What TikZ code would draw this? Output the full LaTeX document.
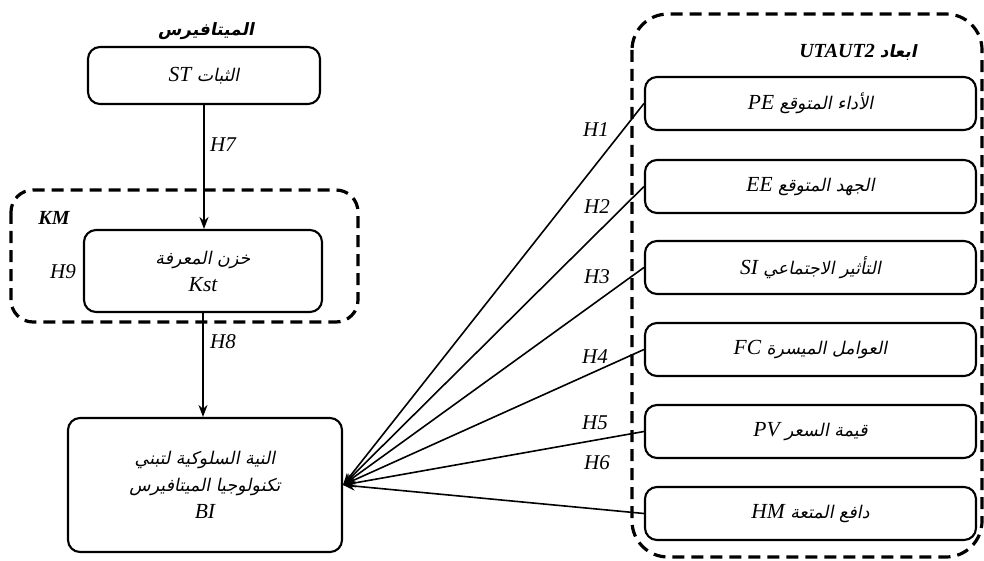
\documentclass[tikz,border=0pt]{standalone}
\usepackage{fontspec}
\usepackage{tikz}
\setmainfont{Liberation Serif}
\newfontfamily\arabicfont[Script=Arabic,FakeSlant=0.2]{DejaVu Sans}
\newfontfamily\arabicbold[Script=Arabic,FakeSlant=0.2]{DejaVu Sans Bold}
\TeXXeTstate=1
\usetikzlibrary{arrows.meta}
\newcommand{\artext}[1]{{\arabicfont\upshape\mdseries\fontsize{17.5}{27}\selectfont\beginR #1\endR}}
\newcommand{\artextbf}[1]{{\arabicbold\upshape\mdseries\fontsize{17}{22}\selectfont\beginR #1\endR}}

\begin{document}
\begin{tikzpicture}[x=1pt,y=-1pt,
		box/.style={draw,line width=2.1pt,rounded corners=12pt,inner sep=0pt,align=center,
			font=\fontsize{21.5}{27}\selectfont\itshape},
		group/.style={draw,line width=3.2pt,dash pattern=on 12pt off 7pt},
		hyp/.style={font=\fontsize{21}{24}\selectfont\itshape},
		head/.style={font=\fontsize{20}{24}\selectfont\bfseries\itshape},
		link/.style={line width=1.6pt},
		arr/.style={link,-{Stealth[length=12pt,width=9pt]}}]
		\useasboundingbox (0,0) rectangle (984,561);
		
		% left column
		\node[head] (meta) at (206,31) {\artextbf{الميتافيرس}};
		\node[box,minimum width=232pt,minimum height=57pt] (st) at (204,75.5) {ST \artext{الثبات}};
		\draw[group,rounded corners=22pt] (11,190) rectangle (358,322);
		\node[head] (km) at (54,218) {KM};
		\node[box,minimum width=238pt,minimum height=82pt] (kst) at (203,271) {\artext{خزن المعرفة}\\Kst};
		\node[box,minimum width=274pt,minimum height=134pt] (bi) at (205,485)
			{\artext{النية السلوكية لتبني}\\\artext{تكنولوجيا الميتافيرس}\\BI};
		
		\draw[arr] (st.south) -- (st.south |- kst.north);
		\draw[arr] (kst.south) -- (kst.south |- bi.north);
		\node[hyp] (h7) at (223,145) {H7};
		\node[hyp] (h8) at (223,342) {H8};
		\node[hyp] (h9) at (63,272) {H9};
		
		% right column
		\draw[group,rounded corners=36pt] (632,14) rectangle (982,557);
		\node[head] (dims) at (858,52) {UTAUT2 \artextbf{ابعاد}};
		\node[box,minimum width=331pt,minimum height=53pt] (pe) at (810.5,103.5) {PE \artext{الأداء المتوقع}};
		\node[box,minimum width=331pt,minimum height=53pt] (ee) at (810.5,186.5) {EE \artext{الجهد المتوقع}};
		\node[box,minimum width=331pt,minimum height=53pt] (si) at (810.5,267.5) {SI \artext{التأثير الاجتماعي}};
		\node[box,minimum width=331pt,minimum height=53pt] (fc) at (810.5,349.5) {FC \artext{العوامل الميسرة}};
		\node[box,minimum width=331pt,minimum height=53pt] (pv) at (810.5,431.5) {PV \artext{قيمة السعر}};
		\node[box,minimum width=331pt,minimum height=53pt] (hm) at (810.5,513.5) {HM \artext{دافع المتعة}};
		
		\foreach \n in {pe,ee,si,fc,pv,hm}
			\draw[arr] (\n.west) -- (bi.east);
		
		\node[hyp] (h1) at (596,130) {H1};
		\node[hyp] (h2) at (597,207) {H2};
		\node[hyp] (h3) at (597,277) {H3};
		\node[hyp] (h4) at (595,357) {H4};
		\node[hyp] (h5) at (595,423) {H5};
		\node[hyp] (h6) at (597,463) {H6};
	\end{tikzpicture}
\end{document}
